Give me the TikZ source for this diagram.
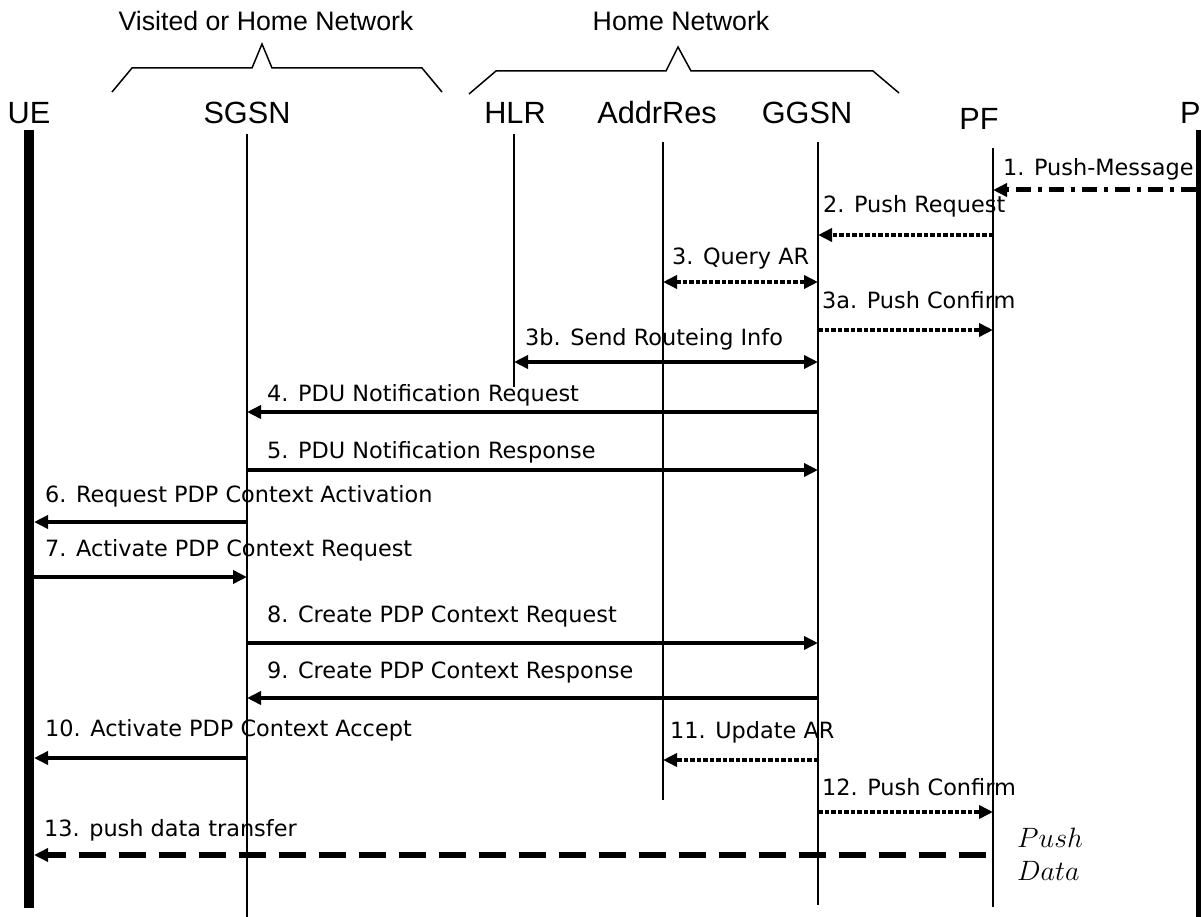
\RequirePackage{fix-cm}
\documentclass[tikz,border=0pt]{standalone}
\usepackage{fontspec}
\setmainfont{DejaVu Sans}
\newfontfamily\hdrfont{Liberation Sans}
\usetikzlibrary{arrows.meta}
\begin{document}
\begin{tikzpicture}[x=1pt,y=-1pt,
  hdr/.style={font=\hdrfont\fontsize{30.7}{36}\selectfont, inner sep=0pt, anchor=base},
  net/.style={font=\hdrfont\fontsize{26.7}{32}\selectfont, inner sep=0pt, anchor=base},
  lbl/.style={font=\fontsize{22.4}{27}\selectfont, inner sep=0pt, anchor=base west},
  mathlbl/.style={font=\fontsize{28}{34}\selectfont, inner sep=0pt, anchor=base west},
  life/.style={line width=1.5pt},
  bar/.style={line width=10pt},
  brace/.style={line width=1.5pt},
  tip/.style={-{Triangle[length=14pt,width=13pt]}},
  tips/.style={{Triangle[length=14pt,width=13pt]}-{Triangle[length=14pt,width=13pt]}},
  msg/.style={line width=4pt, tip},
  msgboth/.style={line width=4pt, tips},
  dotmsg/.style={line width=4.5pt, dash pattern=on 4.5pt off 2pt, tip},
  dotboth/.style={line width=4.5pt, dash pattern=on 4.5pt off 2pt, tips},
  dashdotmsg/.style={line width=5pt, dash pattern=on 15pt off 7pt on 4pt off 7pt, tip},
  dashmsg/.style={line width=6pt, dash pattern=on 27pt off 13pt, tip},
]
\useasboundingbox (0,0) rectangle (1201,917);
\fill[white] (0,0) rectangle (1201,917);

% network labels and braces
\node[net] (visited) at (266,31) {Visited or Home Network};
\node[net] (home) at (681,31) {Home Network};
\draw[brace] (112,92) -- (132,68) -- (252,68) -- (262,44) -- (272,68) -- (422,68) -- (442,92);
\draw[brace] (469,94) -- (496,71) -- (666,71) -- (678,47) -- (691,71) -- (873,71) -- (899,93);

% headers
\node[hdr] (ue) at (29,124) {UE};
\node[hdr] (sgsn) at (247,124) {SGSN};
\node[hdr] (hlr) at (515,124) {HLR};
\node[hdr] (addr) at (657,124) {AddrRes};
\node[hdr] (ggsn) at (807,124) {GGSN};
\node[hdr] (pf) at (979,130) {PF};
\node[hdr, anchor=base west] (p) at (1180,124) {P};

% lifelines
\coordinate (ueT) at (29,130);   \coordinate (ueB) at (29,908);
\coordinate (sgT) at (247,134);  \coordinate (sgB) at (247,917);
\coordinate (hlT) at (514,134);  \coordinate (hlB) at (514,387);
\coordinate (arT) at (663,142);  \coordinate (arB) at (663,800);
\coordinate (ggT) at (818,142);  \coordinate (ggB) at (818,905);
\coordinate (pfT) at (993,148);  \coordinate (pfB) at (993,907);
\coordinate (pT) at (1200,130);  \coordinate (pB) at (1200,917);
\coordinate (ueE) at (34,0);
\coordinate (pE) at (1196,0);

\draw[bar] (ueT) -- (ueB);
\draw[line width=8pt] (pT) -- (pB);
\draw[life] (sgT) -- (sgB);
\draw[life] (hlT) -- (hlB);
\draw[life] (arT) -- (arB);
\draw[life] (ggT) -- (ggB);
\draw[life] (pfT) -- (pfB);

% messages
\draw[dashdotmsg] (pE |- 0,190) -- (pfT |- 0,190);
\node[lbl] (l1) at (1003,176) {1. Push-Message};

\draw[dotmsg] (pfT |- 0,235) -- (ggT |- 0,235);
\node[lbl] (l2) at (823,213) {2. Push Request};

\draw[dotboth] (arT |- 0,282) -- (ggT |- 0,282);
\node[lbl] (l3) at (672,265) {3. Query AR};

\draw[dotmsg] (ggT |- 0,330) -- (pfT |- 0,330);
\node[lbl] (l3a) at (822,308) {3a. Push Confirm};

\draw[msgboth] (hlT |- 0,362) -- (ggT |- 0,362);
\node[lbl] (l3b) at (525,345) {3b. Send Routeing Info};

\draw[msg] (ggT |- 0,412) -- (sgT |- 0,412);
\node[lbl] (l4) at (267,401) {4. PDU Notification Request};

\draw[msg] (sgT |- 0,470) -- (ggT |- 0,470);
\node[lbl] (l5) at (267,458) {5. PDU Notification Response};

\draw[msg] (sgT |- 0,522) -- (ueE |- 0,522);
\node[lbl] (l6) at (45,502) {6. Request PDP Context Activation};

\draw[msg] (ueE |- 0,577) -- (sgT |- 0,577);
\node[lbl] (l7) at (45,556) {7. Activate PDP Context Request};

\draw[msg] (sgT |- 0,643) -- (ggT |- 0,643);
\node[lbl] (l8) at (267,622) {8. Create PDP Context Request};

\draw[msg] (ggT |- 0,698) -- (sgT |- 0,698);
\node[lbl] (l9) at (267,678) {9. Create PDP Context Response};

\draw[msg] (sgT |- 0,758) -- (ueE |- 0,758);
\node[lbl] (l10) at (45,736) {10. Activate PDP Context Accept};

\draw[dotmsg] (ggT |- 0,760) -- (arT |- 0,760);
\node[lbl] (l11) at (670,738) {11. Update AR};

\draw[dotmsg] (ggT |- 0,812) -- (pfT |- 0,812);
\node[lbl] (l12) at (822,795) {12. Push Confirm};

\coordinate (pfE) at (986,0);
\draw[dashmsg] (pfE |- 0,855) -- (ueE |- 0,855);
\node[lbl] (l13) at (44,836) {13. push data transfer};

\node[mathlbl] (pd1) at (1017,847) {$Push$};
\node[mathlbl] (pd2) at (1017,880) {$Data$};
\end{tikzpicture}
\end{document}
